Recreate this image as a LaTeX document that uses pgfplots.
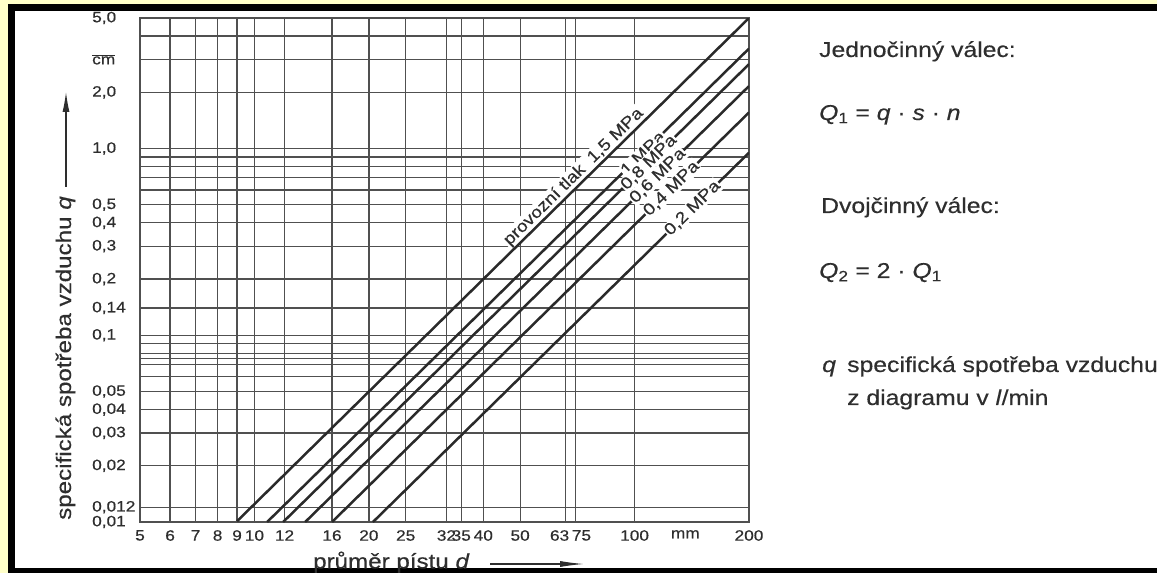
\documentclass[border=0pt]{standalone}
\usepackage{pgfplots}
\pgfplotsset{compat=1.18}
\usepackage{fontspec}
\setmainfont{Liberation Sans}[FakeStretch=1.15, FakeBold=0.4]
\usetikzlibrary{arrows.meta}
\definecolor{frameyellow}{HTML}{FFFFC8}
\definecolor{ink}{HTML}{2E2E2E}
\definecolor{gridc}{HTML}{505050}
\definecolor{linec}{HTML}{2A2A2A}
\tikzset{mpa/.style={rotate=44.5, anchor=center, fill=white, inner sep=1pt,
      font=\fontsize{16.5}{16.5}\selectfont, text=ink}}

\begin{document}
\begin{tikzpicture}
\useasboundingbox (0pt,0pt) rectangle (1157pt,573pt);
\fill[frameyellow] (0pt,0pt) rectangle (1157pt,573pt);
\fill[black] (8pt,0pt) rectangle (1157pt,569pt);
\fill[white] (14.5pt,4.5pt) rectangle (1157pt,562pt);
\begin{axis}[
  at={(140pt,51pt)}, anchor=south west,
  scale only axis, width=609pt, height=504pt,
  xmode=log, ymode=log,
  xmin=5, xmax=200, ymin=0.01, ymax=5,
  axis line style={gridc, line width=1.4pt},
  grid=major,
  major grid style={gridc, line width=1.3pt},
  major tick length=0pt,
  tick style={draw=none},
  % grid lines as drawn in the chart (the two near 63/75 are drawn close together)
  xtick={5,6,7,8,9,10,12,16,20,25,32,35,40,50,65.8,70,100,200},
  xticklabels={5,6,7,8,9,10,12,16,20,25,32,35,40,50,{},{},100,200},
  extra x ticks={63.5,72.5,136},
  extra x tick labels={63,75,mm},
  extra x tick style={grid=none},
  ytick={0.01,0.012,0.02,0.03,0.04,0.05,0.1,0.14,0.2,0.3,0.4,0.5,1,2,3,5},
  yticklabels={{0,01},{0,012},{0,02},{0,03},{0,04},{0,05},{0,1},{0,14},{0,2},{0,3},{0,4},{0,5},{1,0},{2,0},{$\overline{\mbox{cm}}$},{5,0}},
  extra y ticks={0.06,0.07,0.075,0.08,0.09,0.6,0.7,0.8,0.9,4},
  extra y tick labels={},
  ticklabel style={font=\fontsize{15}{15}\selectfont, text=ink, inner sep=0pt},
  xticklabel style={anchor=north, yshift=-8pt},
  yticklabel style={anchor=west, xshift=-48pt},
]
% label of the 1.5 MPa line (lies above the line)
\node[rotate=44.5, anchor=south, fill=white, inner sep=1.5pt,
      font=\fontsize{16.5}{16.5}\selectfont, text=ink]
      at (axis cs:72,0.648) {provozní tlak\hspace{0.6em}1,5 MPa};

% lines q = k d^2 for the operating pressures
\addplot[linec, line width=2.5pt] coordinates {(9,0.0101) (200,5.0)};   % 1.5 MPa
\addplot[linec, line width=2.5pt] coordinates {(10.8,0.01) (200,3.43)}; % 1 MPa
\addplot[linec, line width=2.5pt] coordinates {(11.9,0.01) (200,2.83)}; % 0.8 MPa
\addplot[linec, line width=2.5pt] coordinates {(13.6,0.01) (200,2.16)}; % 0.6 MPa
\addplot[linec, line width=2.5pt] coordinates {(16,0.01) (200,1.56)};   % 0.4 MPa
\addplot[linec, line width=2.5pt] coordinates {(20.5,0.01) (200,0.95)}; % 0.2 MPa

\node[mpa] at (axis cs:105,0.946) {1 MPa};
\node[mpa] at (axis cs:109,0.841) {0,8 MPa};
\node[mpa] at (axis cs:115,0.714) {0,6 MPa};
\node[mpa] at (axis cs:125,0.610) {0,4 MPa};
\node[mpa] at (axis cs:142,0.479) {0,2 MPa};
\end{axis}

% axis titles
\node[rotate=90, anchor=base west, inner sep=0pt, text=ink,
      font=\fontsize{21}{21}\selectfont] at (71pt,53pt) {specifická spotřeba vzduchu \textit{q}};
\draw[ink, line width=1.1pt, -{Latex[length=20pt,width=7pt]}] (66pt,386pt) -- (66pt,481pt);
\node[anchor=base west, inner sep=0pt, text=ink,
      font=\fontsize{21}{21}\selectfont] at (313pt,4.5pt) {průměr pístu \textit{d}};
\draw[ink, line width=1.1pt, -{Latex[length=24pt,width=6pt]}] (490pt,9pt) -- (584pt,9pt);

% explanatory text
\begin{scope}[every node/.style={anchor=base west, inner sep=0pt, text=ink,
      font=\fontsize{21.5}{21.5}\selectfont}]
\node at (819pt,516pt) {Jednočinný válec:};
\node at (819pt,453pt) {\textit{Q}\textsubscript{1} = \textit{q} · \textit{s} · \textit{n}};
\node at (821pt,360pt) {Dvojčinný válec:};
\node at (819pt,295pt) {\textit{Q}\textsubscript{2} = 2 · \textit{Q}\textsubscript{1}};
\node at (822pt,201pt) {\textit{q}};
\node at (847pt,201pt) {specifická spotřeba vzduchu};
\node at (847pt,168pt) {z diagramu v \textit{l}/min};
\end{scope}
\end{tikzpicture}
\end{document}
